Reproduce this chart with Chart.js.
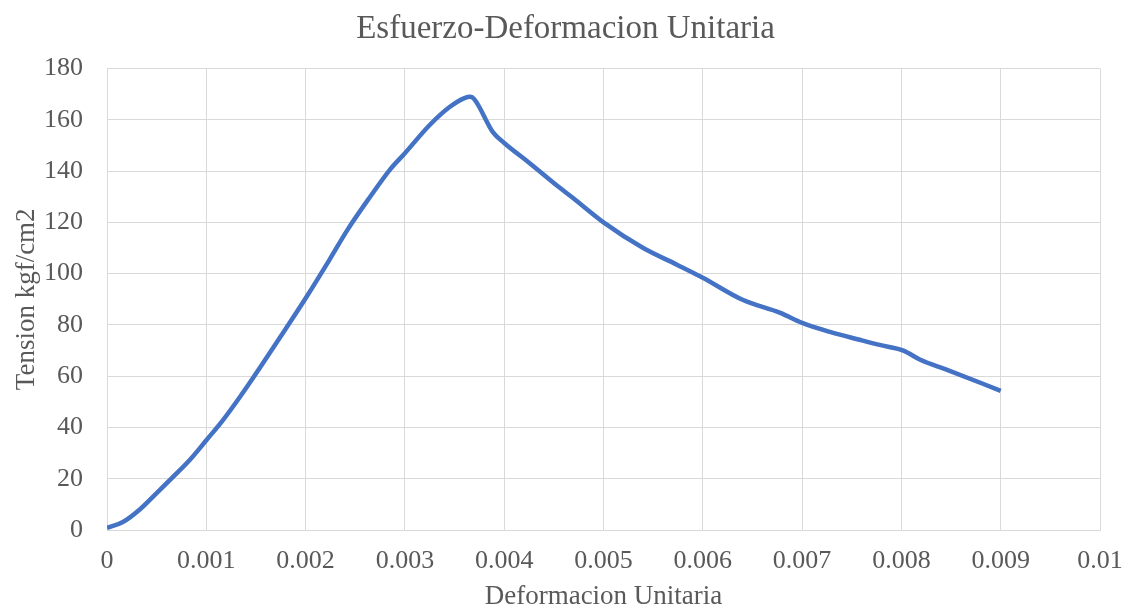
<!DOCTYPE html>
<html>
<head>
<meta charset="utf-8">
<script src="https://cdn.jsdelivr.net/npm/chart.js@4"></script>
<style>
  html, body { margin: 0; padding: 0; background: #fff; }
  #wrap { width: 1131px; height: 610px; }
</style>
</head>
<body>
<div id="wrap"><canvas id="chartSD"></canvas></div>
<script>
// data
const deformacion = [0, 0.00016, 0.00033, 0.0005, 0.00066, 0.00084, 0.001, 0.00117, 0.00134, 0.00147,
  0.00174, 0.00201, 0.00224, 0.00242, 0.00265, 0.00285, 0.003, 0.00325, 0.00345, 0.0036, 0.00366, 0.0037,
  0.00389, 0.004, 0.00426, 0.00456, 0.00469, 0.005, 0.0054, 0.00574, 0.006, 0.0064,
  0.00678, 0.007, 0.00728, 0.00758, 0.00778, 0.00802, 0.00819, 0.00846, 0.009];
const tension = [0.8, 3.1, 8, 14.4, 20.5, 27.6, 35, 43, 52, 59.3,
  75, 91, 105.4, 117, 130, 140.6, 147, 158, 165, 168.5, 169, 168,
  155, 151, 143, 133.5, 129.6, 120, 110, 103.5, 98.4, 89.8,
  84.7, 80.8, 77.3, 74.2, 72.2, 70, 66.4, 62.5, 54.3];
const xTicks = [0, 0.001, 0.002, 0.003, 0.004, 0.005, 0.006, 0.007, 0.008, 0.009, 0.01];

const FONT = "'Liberation Serif', 'Times New Roman', serif";
const TXT = '#595959';

const points = deformacion.map((x, i) => ({ x: x, y: tension[i] }));

new Chart(document.getElementById('chartSD').getContext('2d'), {
    type: 'scatter',
    data: {
        datasets: [{
            label: 'Tension',
            data: points,
            showLine: true,
            borderColor: '#4472C4',
            backgroundColor: '#4472C4',
            borderWidth: 4.5,
            pointRadius: 0,
            cubicInterpolationMode: 'monotone'
        }]
    },
    options: {
        responsive: true, maintainAspectRatio: false, animation: false,
        layout: { padding: { left: 0, right: 0, top: 10, bottom: 0 } },
        plugins: {
            legend: { display: false },
            tooltip: { enabled: false },
            title: {
                display: true, text: 'Esfuerzo-Deformacion Unitaria', color: TXT,
                font: { family: FONT, size: 33, weight: 'normal', lineHeight: 1.2 }, padding: { top: 0, bottom: 19 }
            }
        },
        scales: {
            x: {
                type: 'linear', min: 0, max: 0.01,
                afterBuildTicks: axis => { axis.ticks = xTicks.map(v => ({ value: v })); },
                afterFit: s => { s.height = 80; s.paddingLeft = 0; s.paddingRight = 31; },
                ticks: {
                    color: TXT, font: { family: FONT, size: 26 }, padding: 16, maxRotation: 0,
                    callback: v => String(+v.toFixed(3))
                },
                grid: { color: '#d9d9d9', drawTicks: false },
                border: { color: '#d9d9d9' },
                title: { display: true, text: 'Deformacion Unitaria', color: TXT, font: { family: FONT, size: 27, lineHeight: 1 }, padding: { top: 4, bottom: 0 } }
            },
            y: {
                min: 0, max: 180,
                afterFit: s => { s.width = 107; s.paddingTop = 0; s.paddingBottom = 0; },
                ticks: { stepSize: 20, color: TXT, font: { family: FONT, size: 26 }, padding: 24 },
                grid: { color: '#d9d9d9', drawTicks: false },
                border: { color: '#d9d9d9' },
                title: { display: true, text: 'Tension kgf/cm2', color: TXT, font: { family: FONT, size: 27, lineHeight: 1.2 }, padding: { top: 11, bottom: 0 } }
            }
        }
    }
});
</script>
</body>
</html>
